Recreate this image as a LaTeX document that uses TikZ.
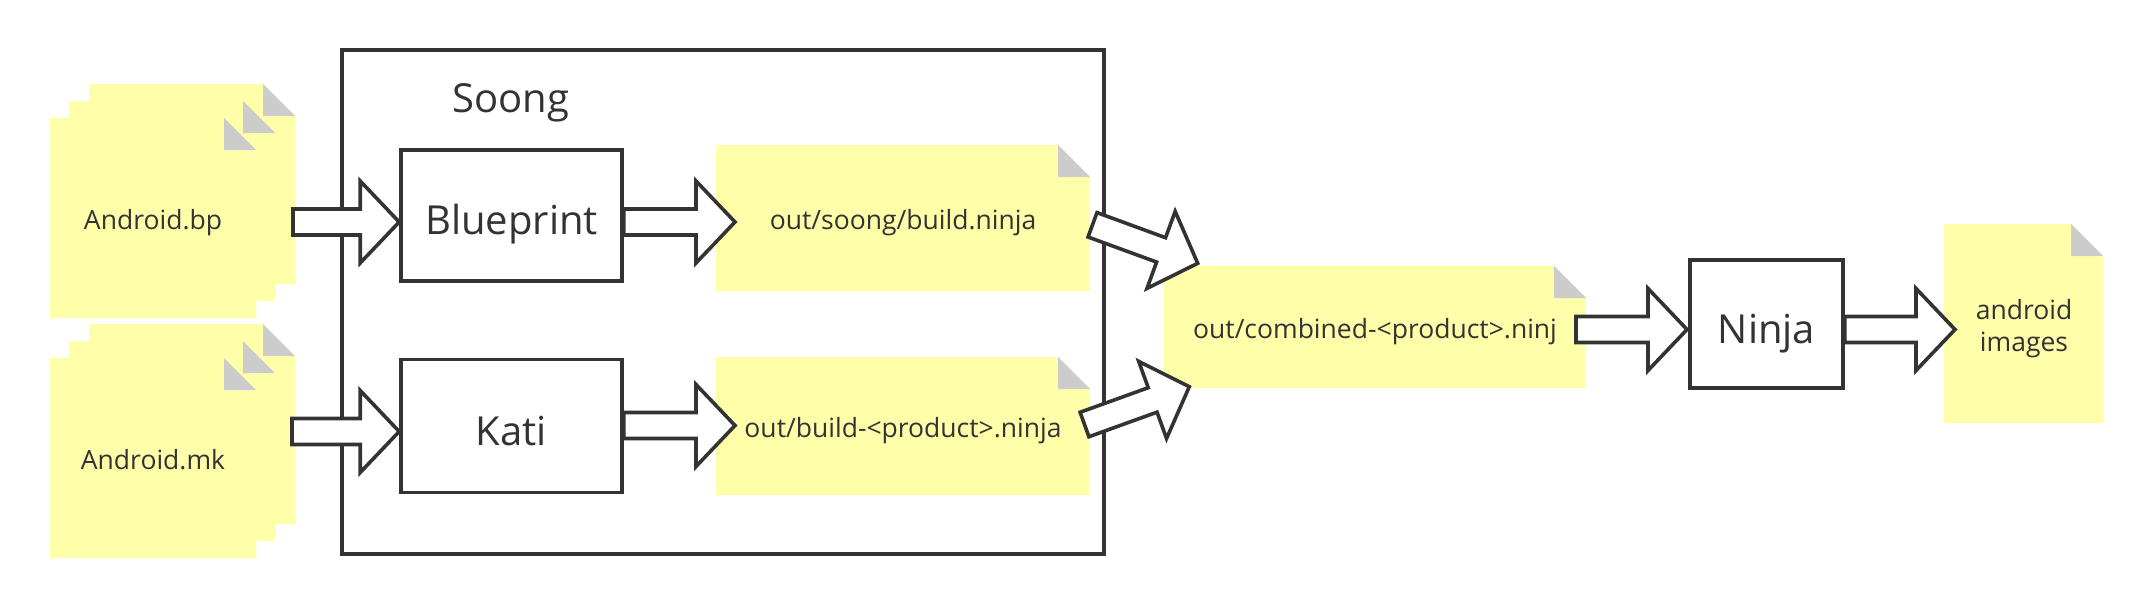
\documentclass[tikz,border=0pt]{standalone}
\usepackage{fontspec}
\setmainfont{Open Sans}
\usetikzlibrary{calc}
\definecolor{docyellow}{HTML}{FFFFAA}
\definecolor{docgray}{HTML}{CCCCCC}
\definecolor{ink}{HTML}{333333}
\newcommand\mydoc[1]{%
  \fill[docyellow] (#1.south west) -- (#1.north west) -- ([xshift=-32pt]#1.north east)
     -- ([yshift=-32pt]#1.north east) -- (#1.south east) -- cycle;
  \fill[docgray] ([xshift=-32pt]#1.north east) -- ([xshift=-32pt,yshift=-32pt]#1.north east)
     -- ([yshift=-32pt]#1.north east) -- cycle;}
\newcommand\blockarrow[2]{%
  \coordinate (baC) at ($(#2)!39pt!(#1)$);
  \draw[blockarr] ($(#1)!13pt!90:(#2)$) -- ($(baC)!13pt!90:(#2)$) -- ($(baC)!41pt!90:(#2)$)
     -- (#2) -- ($(baC)!41pt!-90:(#2)$) -- ($(baC)!13pt!-90:(#2)$) -- ($(#1)!13pt!-90:(#2)$) -- cycle;}
\begin{document}
\begin{tikzpicture}[x=1pt,y=-1pt,
  docn/.style={inner sep=0pt, outer sep=0pt, text=ink, font=\fontsize{26.5pt}{32pt}\selectfont,
               text height=22pt, text depth=0pt},
  procbox/.style={draw=ink, line width=3.6pt, inner sep=0pt, text=ink,
               font=\fontsize{40pt}{48pt}\selectfont, text height=38pt, text depth=0pt},
  blockarr/.style={draw=ink, fill=white, line width=3.6pt, line join=miter},
  lbl/.style={inner sep=0pt, text=ink}]
\useasboundingbox (0,0) rectangle (2154,608);
% documents
\node[docn, minimum width=206pt, minimum height=200pt] (bpA) at (192,184) {};
\node[docn, minimum width=206pt, minimum height=200pt] (bpB) at (172,201) {};
\node[docn, minimum width=206pt, minimum height=200pt] (bp) at (153,218) {};
\node[docn, minimum width=206pt, minimum height=200pt] (mkA) at (192,424) {};
\node[docn, minimum width=206pt, minimum height=200pt] (mkB) at (172,441) {};
\node[docn, minimum width=206pt, minimum height=200pt] (mk) at (153,458) {};
\node[docn, minimum width=374pt, minimum height=146pt] (soongdoc) at (903,218) {};
\node[docn, minimum width=374pt, minimum height=138pt] (builddoc) at (903,426) {};
\node[docn, minimum width=422pt, minimum height=122pt] (combdoc) at (1375,327) {};
\node[docn, minimum width=159pt, minimum height=199pt] (imgdoc) at (2023.5,323.5) {};
\mydoc{bpA}\mydoc{bpB}\mydoc{bp}
\mydoc{mkA}\mydoc{mkB}\mydoc{mk}
\mydoc{soongdoc}\mydoc{builddoc}\mydoc{combdoc}\mydoc{imgdoc}
\node[docn] (bptext) at (bp.center) {Android.bp};
\node[docn] (mktext) at (mk.center) {Android.mk};
\node[docn] (soongtext) at (soongdoc.center) {out/soong/build.ninja};
\node[docn] (buildtext) at (builddoc.center) {out/build-<product>.ninja};
\node[docn] (combtext) at (combdoc.center) {out/combined-<product>.ninj};
\node[lbl, align=center, font=\fontsize{26.5pt}{32pt}\selectfont] (imgtext) at (2024,328.5) {android\\images};
% Soong container
\node[draw=ink, line width=3.6pt, inner sep=0pt, minimum width=762pt, minimum height=504pt] (soong) at (723,302) {};
\node[lbl, anchor=base, font=\fontsize{40pt}{48pt}\selectfont] (soongtitle) at (511,112.7) {Soong};
% process boxes
\node[procbox, minimum width=221pt, minimum height=131pt] (blueprint) at (511.5,215.75) {Blueprint};
\node[procbox, minimum width=221pt, minimum height=133pt] (kati) at (511.5,426) {Kati};
\node[procbox, minimum width=153pt, minimum height=128pt] (ninja) at (1766.5,324) {Ninja};
% arrow end points
\coordinate (t1) at (293,222);      \coordinate (h1) at (blueprint.west |- t1);
\coordinate (t2) at (292,431.5);    \coordinate (h2) at (kati.west |- t2);
\coordinate (t3) at (blueprint.east |- t1); \coordinate (h3) at (735,222);
\coordinate (t4) at (kati.east |- 0,425.5); \coordinate (h4) at (735,425.5);
\coordinate (t5) at (1092.5,224.8); \coordinate (h5) at (1197.7,263.3);
\coordinate (t6) at (1084.5,424.5); \coordinate (h6) at (1189.3,386.7);
\coordinate (t7) at (1576,329.5);   \coordinate (h7) at (1687,329.5);
\coordinate (t8) at (ninja.east |- t7); \coordinate (h8) at (1955,329.5);
\blockarrow{t1}{h1}
\blockarrow{t2}{h2}
\blockarrow{t3}{h3}
\blockarrow{t4}{h4}
\blockarrow{t5}{h5}
\blockarrow{t6}{h6}
\blockarrow{t7}{h7}
\blockarrow{t8}{h8}
\end{tikzpicture}
\end{document}
